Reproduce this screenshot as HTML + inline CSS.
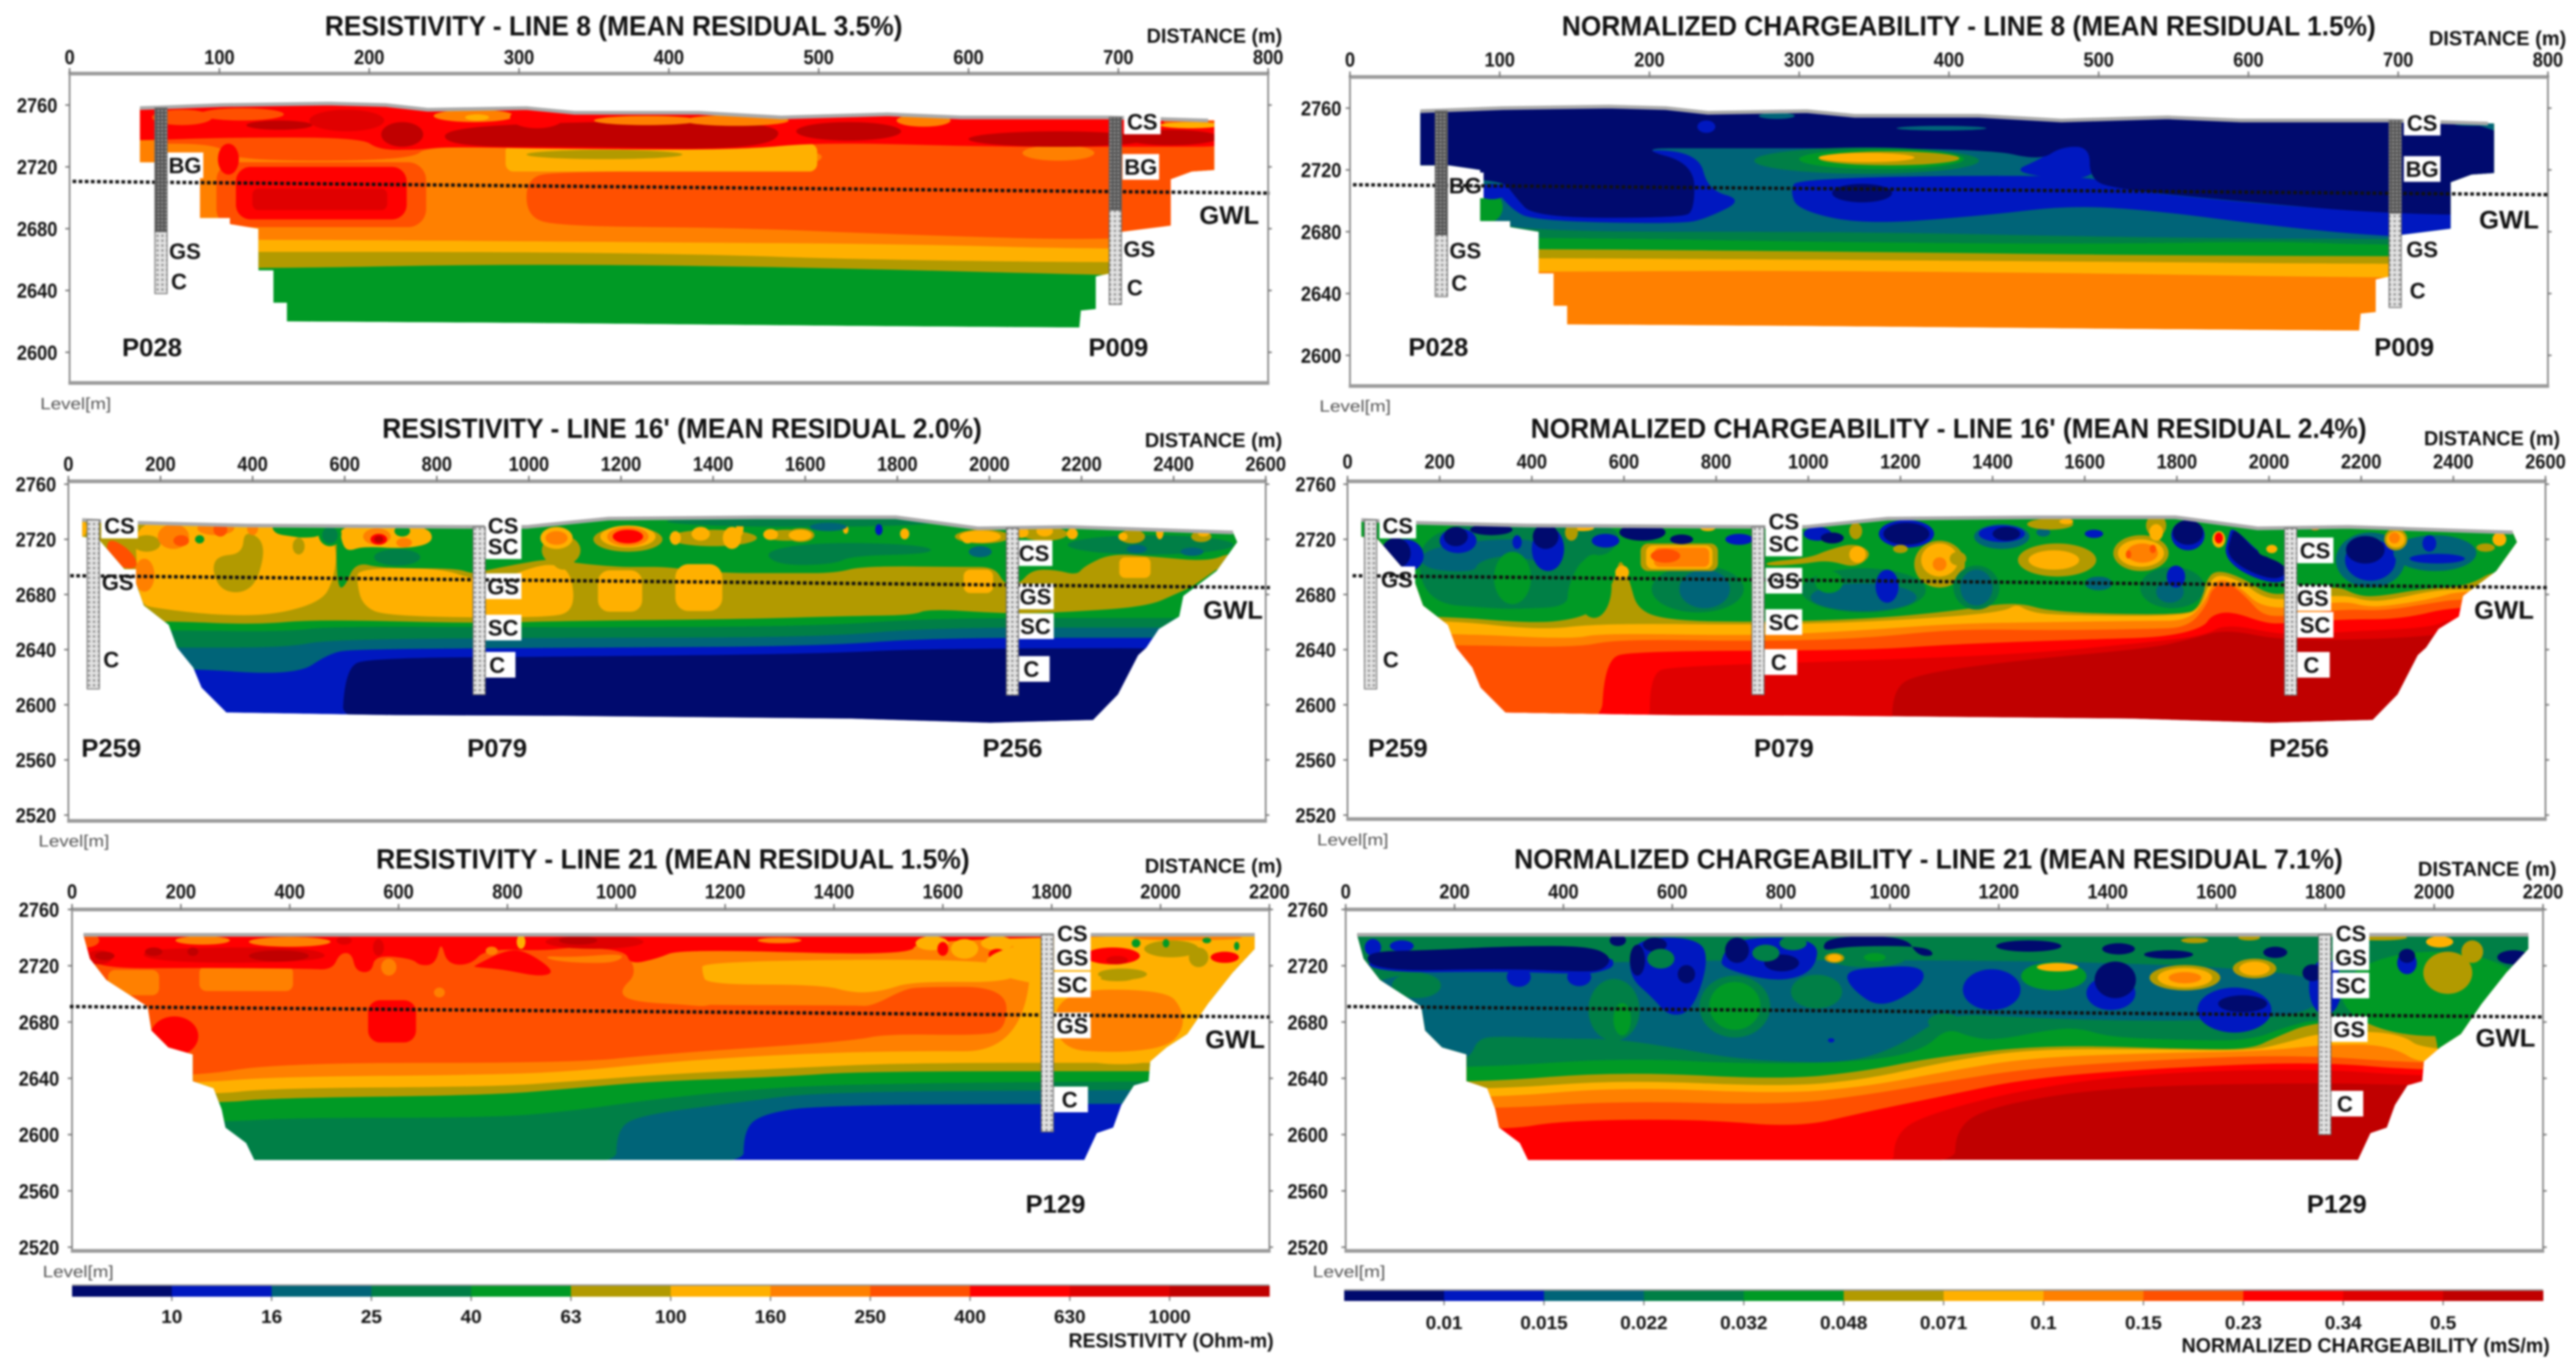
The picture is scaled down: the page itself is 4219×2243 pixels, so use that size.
<!DOCTYPE html>
<html lang="en">
<head>
<meta charset="utf-8">
<title>Resistivity and normalized chargeability sections</title>
<style>
html,body{margin:0;padding:0;background:#fff;}
#chart-root{display:block;width:4219px;height:2243px;filter:blur(1.6px);}
text{font-family:"Liberation Sans",sans-serif;fill:#111;}
.t{font-size:45px;font-weight:700;}
.dist{font-size:33px;font-weight:700;}
.lev{font-size:27px;fill:#555;}
</style>
</head>
<body>
<svg id="chart-root" xmlns="http://www.w3.org/2000/svg" width="4219" height="2243" viewBox="0 0 4219 2243">
<defs>
<pattern id="hole-dark" width="6" height="6" patternUnits="userSpaceOnUse"><rect width="6" height="6" fill="#555"/><rect width="3" height="3" fill="#999"/></pattern>
<pattern id="hole-light" width="8" height="8" patternUnits="userSpaceOnUse"><rect width="8" height="8" fill="#e4e4e4"/><rect width="4" height="4" fill="#999"/></pattern>
</defs>
<rect width="4219" height="2243" fill="#fff"/>

<text class="t" x="532" y="58" textLength="946" lengthAdjust="spacingAndGlyphs">RESISTIVITY - LINE 8 (MEAN RESIDUAL 3.5%)</text>
<text class="t" x="2558" y="58" textLength="1333" lengthAdjust="spacingAndGlyphs">NORMALIZED CHARGEABILITY - LINE 8 (MEAN RESIDUAL 1.5%)</text>
<text class="t" x="626" y="717" textLength="982" lengthAdjust="spacingAndGlyphs">RESISTIVITY - LINE 16' (MEAN RESIDUAL 2.0%)</text>
<text class="t" x="2507" y="717" textLength="1369" lengthAdjust="spacingAndGlyphs">NORMALIZED CHARGEABILITY - LINE 16' (MEAN RESIDUAL 2.4%)</text>
<text class="t" x="616" y="1422" textLength="972" lengthAdjust="spacingAndGlyphs">RESISTIVITY - LINE 21 (MEAN RESIDUAL 1.5%)</text>
<text class="t" x="2480" y="1422" textLength="1357" lengthAdjust="spacingAndGlyphs">NORMALIZED CHARGEABILITY - LINE 21 (MEAN RESIDUAL 7.1%)</text>

<text class="dist" x="1878" y="70" textLength="222" lengthAdjust="spacingAndGlyphs">DISTANCE (m)</text>
<text class="dist" x="3978" y="74" textLength="225" lengthAdjust="spacingAndGlyphs">DISTANCE (m)</text>
<text class="dist" x="1875" y="732" textLength="225" lengthAdjust="spacingAndGlyphs">DISTANCE (m)</text>
<text class="dist" x="3970" y="729" textLength="223" lengthAdjust="spacingAndGlyphs">DISTANCE (m)</text>
<text class="dist" x="1875" y="1429" textLength="225" lengthAdjust="spacingAndGlyphs">DISTANCE (m)</text>
<text class="dist" x="3960" y="1434" textLength="227" lengthAdjust="spacingAndGlyphs">DISTANCE (m)</text>

<text class="lev" x="66" y="670" textLength="116" lengthAdjust="spacingAndGlyphs">Level[m]</text>
<text class="lev" x="2161" y="674" textLength="117" lengthAdjust="spacingAndGlyphs">Level[m]</text>
<text class="lev" x="63" y="1386" textLength="116" lengthAdjust="spacingAndGlyphs">Level[m]</text>
<text class="lev" x="2157" y="1384" textLength="117" lengthAdjust="spacingAndGlyphs">Level[m]</text>
<text class="lev" x="70" y="2091" textLength="116" lengthAdjust="spacingAndGlyphs">Level[m]</text>
<text class="lev" x="2150" y="2091" textLength="119" lengthAdjust="spacingAndGlyphs">Level[m]</text>

<text class="dist" x="1750" y="2206" textLength="336" lengthAdjust="spacingAndGlyphs">RESISTIVITY (Ohm-m)</text>
<text class="dist" x="3573" y="2214" textLength="603" lengthAdjust="spacingAndGlyphs">NORMALIZED CHARGEABILITY (mS/m)</text>
</svg>

<script>
/* ---------- shared scales ---------- */
const colorLevels = ['#000a6e','#0018c0','#006478','#007f46','#009a25','#b29a00','#ffb000','#ff8000','#ff5000','#ff0000','#e00000','#c00000'];
const resistivityTicks = ['10','16','25','40','63','100','160','250','400','630','1000'];
const chargeabilityTicks = ['0.01','0.015','0.022','0.032','0.048','0.071','0.1','0.15','0.23','0.34','0.5'];
const distanceTicks8 = [0,100,200,300,400,500,600,700,800];
const distanceTicks16 = [0,200,400,600,800,1000,1200,1400,1600,1800,2000,2200,2400,2600];
const distanceTicks21 = [0,200,400,600,800,1000,1200,1400,1600,1800,2000,2200];
const levelTicks8 = [2760,2720,2680,2640,2600];
const levelTicks16 = [2760,2720,2680,2640,2600,2560,2520];
const levelTicks21 = [2760,2720,2680,2640,2600,2560,2520];

/* ---------- section outlines as [distance, level] ---------- */
const line8Surface = [[47,2758],[102,2760],[173,2761],[211,2760],[239,2757],[305,2758],[337,2755],[420,2755],[475,2752],[546,2754],[595,2752],[694,2752],[760,2750]];
const line8Flanks = [[764,2750],[764,2718],[749,2717],[735,2712],[735,2682],[702,2678],[694,2651],[685,2649],[685,2628],[675,2627],[674,2616],[532,2617],[305,2619],[145,2620],[145,2632],[136,2632],[136,2653],[126,2653],[126,2680],[107,2683],[107,2687],[87,2687],[87,2720],[66,2723],[47,2723]];
const line16Surface = [[30,2734],[146,2732],[387,2730],[896,2729],[994,2729],[1172,2735],[1494,2736],[1797,2736],[1975,2728],[2172,2729],[2529,2725]];
const line16Flanks = [[2538,2718],[2493,2697],[2421,2679],[2412,2664],[2368,2655],[2341,2641.5],[2323,2636],[2279,2607.5],[2225,2589],[2002,2587],[1699,2590],[1074,2592],[708,2592.5],[343,2594.4],[289,2612.5],[271,2627],[236,2641.5],[218,2658],[164,2672],[146,2689],[66,2720],[30,2722]];
const line21Surface = [[21,2742],[2173,2742]];
const line21Flanks = [[2173,2732],[2132,2715],[2087,2693],[2049,2671.5],[2011,2662],[1981,2652],[1978,2638],[1951,2635],[1928,2621],[1913,2605],[1883,2601],[1860,2582],[335,2582],[320,2594],[282,2605],[275,2618],[260,2633],[222,2638],[222,2657],[177,2662],[146,2674],[139,2691],[63,2710],[33,2725]];

/* ---------- contour layers: [level,pts] region, [level,pts,1] band closed upward, [level,d,L,rd,rL] blob, [level,d,L,rd,rL,1] rounded block ---------- */
const res8Layers = [
[5,[[126,2654],[283,2657],[420,2656],[530,2654],[669,2650.5],[700,2650]],1],
[6,[[126,2665],[283,2665],[420,2663.5],[530,2660],[694,2658]],1],
[7,[[126,2673],[283,2672],[420,2671],[560,2670],[694,2666.5]],1],
[8,[[40,2770],[790,2770],[790,2681],[702,2672],[557,2676],[447,2680.6],[326,2681.5],[305,2688],[305,2713],[326,2717],[502,2718],[502,2735],[240,2735],[228,2724],[107,2724],[100,2735],[40,2735]]],
[8,168,2702,70,21,1],
[9,168,2703,57,17,1],
[10,167,2699,45,7,1],
[7,660,2729,24,5],
[6,395,2726,104,9,1],
[5,357,2728,52,3],
[7,54,2730,9,8],
[9,106,2725,7,10],
[9,[[-20,2770],[800,2770],[800,2733],[700,2733],[612,2733],[502,2736],[447,2731],[337,2731.5],[250,2733],[233,2731],[206,2731],[195,2739],[102,2739],[47,2737],[-20,2737]]],
[11,[[246,2743],[294,2748],[420,2750],[480,2746],[462,2731],[337,2733],[257,2733]]],
[11,520,2743,35,6],[11,660,2738,60,5],[11,222,2741,14,8],[10,185,2750,25,7],[11,735,2739,32,5],[11,140,2747,22,3],
[8,75,2752,20,5],[8,115,2754,28,4],[7,270,2753,27,4],[6,272,2752,8,2],[7,385,2750,35,3],[7,445,2750,35,3.5],[7,570,2750,18,4],[9,312,2752,18,7],[8,748,2749,18,2],[6,748,2747,20,2]
];
const chg8Layers = [
[6,[[126,2654],[288,2655],[507,2653],[694,2650]],1],
[5,[[126,2663],[288,2662],[507,2660.6],[694,2659]],1],
[4,[[126,2669],[343,2667],[507,2665],[694,2664]],1],
[3,[[126,2676.5],[343,2673],[507,2672],[617,2674],[694,2671]],1],
[2,[[90,2687],[126,2680],[343,2680],[507,2676.5],[694,2675]],1],
[4,92,2696,10,10],
[1,[[299,2715],[497,2717],[508,2708],[590,2699.5],[694,2692],[790,2692],[790,2675],[694,2676.5],[617,2683.6],[535,2694],[480,2697],[425,2690.6],[343,2684.5],[299,2694],[294,2706.5]]],
[1,[[189,2734],[233,2731],[239,2707],[263,2700.6],[239,2689],[222,2685],[123,2687],[107,2695],[93,2713]]],
[1,[[461,2727],[475,2736],[497,2736],[499,2712],[440,2718]]],
[0,[[-8,2770],[782,2770],[782,2690.6],[694,2691.5],[590,2700],[508,2708],[494,2715],[494,2735],[475,2735],[461,2726],[425,2734],[233,2734],[192,2734],[230,2724],[230,2694],[222,2689],[123,2689],[110,2703],[101,2715],[-8,2715]]],
[1,95,2706,10,5],
[0,342,2705,20,6],
[3,345,2726,75,8.5],[4,355,2727,55,6.5],[5,360,2727.5,47,4.5],[6,345,2728,32,3],
[1,238,2748,6,4],[2,285,2755,12,2],[2,395,2747,30,1.5],[1,390,2755,20,1],[2,750,2749.5,12,1]
];
const res16Layers = [
[0,[[592,2570],[601,2627],[655,2634],[1101,2635],[1636,2637],[1868,2641],[2700,2641],[2700,2570]]],
[2,[[236,2627],[494,2621],[566,2637.3],[619,2640.4],[1101,2641.4],[1636,2642.5],[1868,2648.6],[2350,2648.6]],1],
[3,[[236,2641.5],[476,2641.5],[566,2647.6],[1101,2648.6],[1636,2649],[1868,2656],[2350,2656]],1],
[4,[[218,2654],[476,2653],[566,2657],[1101,2656],[1636,2657],[1868,2663],[2368,2663]],1],
[5,[[209,2661],[403,2658],[539,2662],[877,2659],[1097,2661],[1454,2662],[1707,2664.5],[1834,2665],[1868,2669.6],[2037,2666],[2156,2667],[2342,2671],[2409,2681],[2443,2686],[2529,2707]],1],
[6,[[145,2735],[330,2735],[445,2734],[560,2732],[584,2712],[575,2690],[550,2675],[446,2665],[319,2665],[190,2670],[156,2673],[148,2700]]],
[5,[[382,2727],[429,2718],[412,2690],[378,2680.7],[331,2683],[312,2697.7],[323,2708],[378,2709.5]]],
[5,170,2717,30,6],
[7,165,2694,22,12],
[8,[[86,2721],[124,2715],[150,2705],[145,2698],[103,2700.6],[82,2709]]],
[7,228,2722,34,9],[8,245,2719,17,4],[4,285,2720,10,3],[7,320,2728,40,5],[8,330,2727,15,5],[7,400,2728,12,5],
[4,[[441,2734],[565,2734],[552,2722],[505,2721],[490,2722],[445,2724]]],
[5,500,2715,13,6],
[4,[[590,2770],[2700,2770],[2700,2711],[2528,2711],[2477,2704],[2367,2707],[2266,2710],[2206,2700.6],[2190,2694],[2143,2698],[2092,2698],[2063,2687],[2033,2687],[2012,2700],[1944,2700],[1724,2700.6],[1665,2695.5],[1564,2695.5],[1411,2695.5],[1300,2700],[1249,2700],[1190,2700],[1097,2703],[1046,2706],[974,2702],[900,2697],[877,2695],[843,2699],[682,2699],[623,2703.6],[600,2685],[585,2685],[581,2715]]],
[6,[[631,2699],[809,2699],[877,2691],[950,2691],[974,2696],[1046,2703],[1092,2697],[1100,2668],[1040,2663],[691,2664],[638,2672],[626,2690]]],
[6,1198,2682.5,48,15,1],[6,1369,2685,51,17,1],[6,1976,2689.5,32,8.5,1],[6,2316,2699.5,34,7.5,1],
[6,[[589,2731],[776,2731],[797,2718],[733,2713],[640,2715],[606,2711],[593,2718]]],
[4,568,2724,25,9],[3,568,2723,17,6],[4,725,2726,17,4],
[3,714,2707,50,6],[4,600,2705,10,6],
[7,670,2722,30,6],[9,674,2720,18,4],[11,674,2720,10,2.5],[7,729,2717.6,17,3.5],
[5,1070,2712,42,11],[5,1075,2706,25,8],[6,1060,2721,35,8],[7,1060,2721,24,5],
[5,1215,2720,75,9],[6,1215,2722,60,8],[7,1215,2722,45,7],[9,1215,2722,33,5],
[5,1400,2721,95,6],[6,1318,2721,12,5],[6,1373,2724,20,5],[6,1441,2721,20,8],[6,1458,2728,8,6],[5,1560,2723,50,4],[6,1525,2723.5,16,4],[5,1590,2723,30,5],[6,1589,2723,25,4],[6,1688,2727,6,3],[6,1816,2724,10,4],
[3,[[1509,2709.5],[1564,2715.4],[1690,2718],[1868,2715.4],[1877,2709.5],[1699,2708],[1665,2702],[1547,2701]]],
[3,1600,2733,300,4],[2,1650,2729,40,3],[1,1760,2727,8,4],[3,2350,2716,180,7],
[2,1980,2711,25,4],[2,2320,2713,22,3],[2,2440,2711,25,3],
[5,1985,2722,60,5],[6,1980,2722,45,4.5],[6,1953,2720,12,3],
[5,2120,2724,50,5],[6,2070,2725,15,4],[6,2120,2726,18,4],[6,2180,2724,12,4],[5,2310,2722,28,5],[6,2290,2722,10,3],[6,2370,2725,8,5],[5,2460,2722,22,4],[6,2465,2724,12,2],[6,30,2728,10,6]
];
const chg16Layers = [
[10,[[1182,2570],[1182,2612],[1245,2623],[1476,2633],[1744,2641],[1833,2648],[1908,2655],[2035,2646],[2348,2649],[2400,2655]],1],
[9,[[656,2570],[656,2623],[710,2628],[1120,2632],[1476,2637],[1744,2645.6],[1858,2650],[1908,2659],[2035,2650],[2162,2653],[2357,2656],[2399,2664]],1],
[8,[[549,2570],[558,2633],[620,2639],[1120,2639.4],[1317,2644],[1613,2647.5],[1773,2649],[1858,2656],[1875,2665],[1917,2668],[1993,2659],[2035,2659],[2162,2662],[2289,2662],[2416,2672.6]],1],
[7,[[237,2643.5],[496,2641.4],[585,2647.6],[883,2646],[1120,2648],[1317,2655],[1528,2654],[1739,2655],[1824,2656],[1866,2672.6],[1875,2684],[1908,2690],[1951,2678],[1985,2665],[2035,2664],[2162,2669.6],[2247,2668],[2357,2674],[2416,2677]],1],
[6,[[224,2652],[486,2647.5],[550,2652],[883,2650],[1120,2654],[1317,2659],[1528,2660],[1739,2661],[1824,2661],[1862,2675.5],[1875,2687],[1900,2692],[1942,2684],[1976,2672.6],[2035,2669.6],[2162,2675.5],[2213,2671],[2264,2672],[2357,2677],[2424,2683.6]],1],
[5,[[207,2662],[418,2654],[545,2659],[883,2658],[1120,2660],[1317,2664],[1427,2668],[1452,2673],[1477,2668],[1528,2665],[1816,2664],[1853,2671],[1870,2689],[1892,2695],[1942,2689],[1985,2678],[2035,2676],[2162,2680],[2213,2675],[2264,2676],[2357,2683],[2433,2684]],1],
[4,[[182,2665],[401,2659],[494,2662],[545,2670],[579,2690],[592,2708],[612,2690],[630,2668],[706,2661],[883,2660],[1120,2662],[1317,2668],[1452,2675],[1528,2667],[1816,2665],[1850,2671],[1866,2693],[1892,2697.7],[1942,2692],[1993,2681],[2035,2680],[2145,2687],[2196,2678.5],[2247,2679],[2331,2684],[2433,2686],[2500,2700]],1],
[6,596,2696,15,5],
[3,[[156,2734],[596,2734],[579,2709],[511,2708],[478,2686],[478,2671],[368,2669.6],[330,2669.6],[156,2674]]],
[2,[[156,2712],[292,2720],[427,2720],[444,2702],[342,2709],[283,2703.6],[275,2696],[165,2698]]],
[4,358,2692,40,19],[4,535,2686,38,23],
[3,760,2684,100,17],[2,775,2684,55,14],
[5,720,2707,84,10,1],[6,720,2707,72,8.5,1],[7,725,2707,60,7,1],[8,690,2708,32,5],
[1,125,2708,40,12],[0,105,2710,32,11],[0,312,2727,46,4],[1,240,2719,40,9],[0,235,2722,26,7],[1,368,2718,10,5],
[1,435,2713,35,16],[0,430,2722,28,9],[0,640,2725,50,6],[0,725,2720,25,3.5],[1,560,2719,30,5],[1,850,2720,30,4],
[6,782,2728,16,2],[6,510,2728,25,2],[5,486,2725,14,6],
[1,1020,2724,30,5],[0,1052,2721,25,4],[5,1103,2726,14,6],[1,1213,2724,60,10],[0,1213,2724,50,8],
[5,[[909,2703.6],[1002,2706.5],[1044,2712.5],[1103,2717.6],[1141,2709.5],[1103,2699],[1044,2705],[985,2702],[909,2700.6]]],
[6,1107,2709,18,6],
[3,1120,2683,135,16],[2,1120,2678,115,10],[4,1045,2689,30,8],[1,1171,2686,25,12],
[5,1285,2702,55,17],[6,1285,2705,40,12],[7,1285,2702,15,5],[5,1200,2713,16,3],[5,1325,2706,18,5],
[3,1365,2685,50,16],[2,1365,2685,35,13],[2,1630,2688,30,5],
[3,1790,2685,70,15],[2,1785,2682,30,8],[1,1798,2693,20,8],
[5,1540,2705,85,12],[6,1533,2705,55,7],
[5,1722,2710,60,13],[6,1722,2710,50,10],[7,1725,2710,34,7],[8,1695,2709,6,3],[8,1748,2713,7,3],
[5,1755,2730,22,8],[6,1755,2725,15,6],
[1,1824,2723,36,11],[0,1824,2725,33,9],
[2,1420,2722,60,9],[1,1420,2724,50,6],[0,1430,2724,30,5],[1,1620,2724,20,3],[2,1510,2725,15,3],
[5,1525,2731,50,4],[6,1560,2733,15,2],
[6,1891,2720,14,6],[9,1891,2721,9,4],
[1,[[1920,2730],[1985,2708],[2042,2700],[2042,2690],[2001,2688],[1935,2697],[1902,2709],[1912,2722]]],
[0,[[1925,2728.7],[1976,2709.5],[2035,2702],[2035,2693],[2001,2691],[1942,2699],[1908,2709.5],[1917,2721]]],
[4,2006,2712,30,5],[6,2006,2713,12,3],
[2,2220,2705,75,20],[1,2220,2705,55,15],[0,2209,2712.4,42,10],
[2,2360,2710,90,13],[1,2365,2706,60,3.5],[1,2348,2717,15,6],
[5,2275,2720,25,8],[6,2275,2720,20,6],[7,2272,2721,12,4],
[6,2500,2720,15,5],[5,2470,2714,20,3],[7,2100,2728,10,1.5]
];
const res21Layers = [
[2,[[1234,2570],[1234,2604],[1271,2615],[1377,2621],[1951,2622],[2300,2622]],1],
[3,[[1000,2570],[1000,2604],[1045,2614],[1226,2623],[1377,2630.5],[1951,2631.7],[2300,2632]],1],
[4,[[275,2608.7],[396,2612],[773,2612],[924,2617],[1075,2625.6],[1302,2634],[1528,2636.5],[1981,2638]],1],
[5,[[267,2622],[365,2626],[773,2628],[924,2633],[1075,2638],[1302,2641],[1453,2645],[1981,2645]],1],
[6,[[252,2628],[365,2633],[773,2634],[924,2638],[1075,2642.5],[1302,2647],[1528,2651],[1981,2651]],1],
[6,[[1750,2650],[2100,2650],[2100,2770],[1750,2770]]],
[7,[[230,2636.5],[365,2641],[773,2642.5],[924,2645],[1075,2651],[1302,2657],[1528,2659.5],[1750,2659],[1770,2770],[-100,2770],[-100,2636]]],
[8,[[-100,2770],[1166,2770],[1166,2723.5],[1045,2710],[1007,2698],[1075,2692],[1437,2692],[1468,2691],[1528,2703],[1558,2705],[1717,2705],[1717,2674],[1664,2670.5],[1498,2671.5],[1437,2667],[1302,2663],[1075,2657],[924,2651],[381,2651],[222,2641],[-100,2641]]],
[7,[[1011,2734],[1200,2734],[1200,2690],[1100,2693],[1025,2695],[1005,2702],[1040,2715]]],
[6,[[1158,2723.5],[1740,2725],[1740,2708],[1543,2709],[1490,2702],[1437,2700.5],[1377,2706.6],[1166,2706.6],[1158,2715]]],
[7,[[1807,2703],[2011,2703],[2041,2688.6],[2041,2674],[2011,2662],[1919,2658],[1807,2661]]],
[7,113,2708,47,9,1],[7,320,2711,86,9,1],[7,582,2719,14,6],[7,675,2701,10,3.5],
[9,188,2670,44,14],[9,588,2680.5,44,15,1],
[9,[[-20,2770],[2200,2770],[2200,2742],[1551,2739],[1543,2727],[1118,2732],[1075,2725],[1025,2721],[1018,2730.6],[925,2733.5],[868,2730.6],[760,2732],[732,2720.5],[689,2721],[678,2738],[668,2721],[639,2720],[625,2725],[557,2727.7],[550,2715],[521,2716],[514,2729],[492,2729],[478,2717],[431,2718],[238,2718.5],[52,2718],[18,2729.5],[-20,2730]]],
[9,[[739,2720],[796,2731],[832,2731],[889,2716],[861,2712],[789,2717.6],[739,2719]]],
[7,[[868,2727],[920,2726],[1018,2729],[1000,2722],[930,2722],[880,2724]]],
[7,771,2730.6,11,3],[6,825,2737,8,5],
[10,[[128,2731],[238,2733],[446,2733],[478,2724],[288,2721.5],[136,2724]]],
[10,50,2726,24,5],
[11,150,2730,16,3],[11,222,2730,10,3],[11,380,2727,55,4],[11,60,2727,18,3],
[8,25,2738,25,5],[7,240,2738,50,3],[7,400,2737,75,3.5],[10,500,2738,14,3],[10,563,2733,10,6],[10,960,2737,90,5],[11,930,2738,35,3],
[7,1300,2738,40,2],[6,1580,2736,30,5],[6,1640,2732,25,7],[6,1700,2736,30,5],[9,1600,2732,10,5],[9,1700,2728,16,4],
[6,1900,2722,220,18],[6,2000,2734,180,8],[7,2050,2740,100,2],
[9,1912,2727,50,6],[10,1920,2724,20,3],[9,2118,2726,26,4],
[5,1930,2714,45,4],[5,2020,2732,50,6],[5,2070,2726,18,7],[5,1920,2711,30,2],
[4,1955,2736,8,3],[4,2010,2736,6,3],[4,2085,2738,8,2],[4,2140,2734,5,3]
];
const chg21Layers = [
[10,[[1120,2570],[1120,2606],[1195,2621],[1406,2634],[1784,2637],[1965,2635]],1],
[9,[[1007,2570],[1007,2599],[1059,2613.5],[1255,2633],[1482,2644],[1784,2647],[1987,2641]],1],
[8,[[290,2602.7],[395,2610],[652,2611],[833,2605],[954,2616],[1105,2628],[1255,2640],[1482,2647],[1784,2652],[1987,2645]],1],
[7,[[275,2618],[501,2624],[803,2621],[954,2628],[1105,2638],[1255,2647],[1482,2653],[1754,2657],[1987,2650]],1],
[6,[[267,2625.6],[501,2634],[803,2629],[954,2634],[1105,2645],[1255,2654.6],[1482,2658],[1693,2659.5],[1799,2664],[1920,2664],[1987,2647]],1],
[5,[[260,2631.6],[501,2639],[803,2634],[954,2639],[1105,2652],[1255,2660.7],[1482,2660.7],[1663,2659.5],[1723,2665],[1799,2673],[1935,2673],[1987,2658]],1],
[4,[[232,2636.5],[501,2645],[803,2639],[954,2645],[1074,2654.6],[1286,2664],[1557,2660.7],[1663,2660.7],[1708,2669],[1784,2681],[1980,2681],[2002,2674],[2010,2650]],1],
[3,[[232,2647],[501,2654.6],[757,2650],[954,2652],[1059,2659.5],[1105,2676],[1150,2669],[1195,2667],[1286,2674],[1346,2676],[1406,2669],[1557,2667],[1663,2667],[1723,2676],[1799,2683.6]],1],
[4,2000,2700,170,30],
[2,[[0,2724],[1799,2724],[1799,2686],[1587,2681],[1406,2681],[1225,2683.6],[1105,2686],[1014,2662],[923,2651],[788,2652],[700,2655],[630,2660],[500,2668],[400,2668],[279,2670],[243,2668],[229,2655],[190,2650],[100,2680]]],
[3,[[-20,2770],[2300,2770],[2300,2730],[1800,2730],[1000,2733],[-20,2731]]],
[3,493,2688.6,47,22],[4,508,2682,16,11.5],[3,715,2691,65,22],[4,715,2691.5,47,17],[3,865,2701.6,47,12],[3,130,2706,45,9],
[3,1100,2680,30,6],[4,1301,2712.6,60,10],
[1,[[30,2726],[486,2728],[495,2720],[472,2716],[436,2714],[293,2716],[57,2715]]],
[1,318,2712,22,7],[1,429,2712,22,6.5],[1,50,2733,15,6],[1,103,2734,22,4],
[0,[[30,2730],[150,2731],[304,2734],[450,2734],[490,2726],[474,2717],[436,2715.6],[293,2718],[55,2716]]],
[1,[[529,2740],[651,2740],[667,2722],[636,2687],[593,2684],[565,2697],[518,2713]]],
[0,536,2724,14,11],[0,568,2735,22,5],[0,626,2714,16,6.5],[3,579,2725,25,7],
[1,[[690,2726],[715,2740],[870,2740],[862,2716],[794,2708],[692,2718]]],
[0,719,2731,22,9],[0,801,2722,32,6],[3,772,2729,25,6],[3,822,2736,25,5],
[0,[[873,2730],[923,2734],[1066,2734],[1084,2727],[1050,2727],[1030,2741],[887,2741]]],
[0,500,2738,15,4],
[3,958,2725,70,6],[4,972,2726,20,3],[5,898,2725.5,18,3.5],[6,898,2725.5,13,2.6],
[1,[[917,2716],[973,2719],[1062,2720],[1062,2706],[983,2689],[928,2704]]],
[1,892,2667,6,1.5],
[1,1187,2703,53,14.5],[1,1406,2700.5,45,12],[1,1633,2688.5,68,16],[1,1800,2705,30,20],[1,1950,2722,18,8],
[0,1648,2693,45,6],[0,1414,2710,38,13],[0,1255,2734,60,4],[0,1420,2732,30,4],[0,1512,2728,45,3],[0,1708,2729.5,22,4],[0,1776,2715,18,6],[0,1950,2727,15,5],[0,2146,2726,30,5],
[6,1308,2719,38,3],[5,1542,2711.5,65,9],[6,1542,2711.5,50,7],[7,1542,2711.5,30,4],
[5,1670,2718,40,7],[6,1670,2718,28,5],[5,2025,2715,45,15],[5,2070,2730,20,8],[6,2010,2737,25,4],[5,1900,2740,50,2],[5,1560,2738,25,2],[5,1660,2740,20,2],
[9,2178,2730,5,4]
];

/* ---------- water table, boreholes [distance, top, split, bottom] ---------- */
const gwl8Res = [[2,2710.6],[801,2703]];
const gwl8Chg = [[2,2710.4],[800,2704]];
const gwl16Res = [[4,2693.6],[2609,2685]];
const gwl16Chg = [[11,2693.6],[2605,2685]];
const gwl21Res = [[-4,2691],[2200,2683.6]];
const gwl21Chg = [[3,2691],[2201,2683.6]];
const holes8 = [[61,2758,2678,2638],[698,2752,2692,2631]];
const holes16Res = [[54,2734,2734,2611.5],[892,2729,2729,2607.4],[2050,2728,2728,2607]];
const holes16Chg = [[50,2734,2734,2611.5],[891,2729,2729,2607.4],[2047,2728,2728,2607]];
const holes21Res = [[1792,2742,2742,2602]];
const holes21Chg = [[1799,2742,2742,2600]];

/* ---------- annotations [text, distance, level, boxed] ---------- */
const notes8Res = [['CS',716,2749.4,1],['BG',715,2720,1],['BG',77,2721,1],['GS',77,2665.6,0],['C',73,2646,0],['GS',714,2667,0],['C',711,2642,0]];
const notes8Chg = [['CS',716,2750.6,1],['BG',716,2720.6,1],['BG',77,2710,1],['GS',77,2668,0],['C',73,2647,0],['GS',716,2668.6,0],['C',713,2642,0]];
const notes16Res = [['CS',111,2730,1],['GS',107,2689,1],['C',93,2633,0],['CS',944,2730,1],['SC',944,2715,1],['GS',944,2686,1],['SC',944,2656,1],['C',931,2629,1],['CS',2097,2710,1],['GS',2100,2678.6,1],['SC',2100,2657,1],['C',2091,2626,1]];
const notes16Chg = [['CS',109,2730,1],['GS',107,2691,1],['C',94,2633,0],['CS',947,2733,1],['SC',947,2717,1],['GS',947,2690,1],['SC',947,2660,1],['C',936,2631,1],['CS',2100,2712,1],['GS',2095,2677.5,1],['SC',2100,2658,1],['C',2092,2629,1]];
const notes21Res = [['CS',1838,2743,1],['GS',1838,2726,1],['SC',1838,2706.6,1],['GS',1838,2677.6,1],['C',1833,2625,1]];
const notes21Chg = [['CS',1847,2743,1],['GS',1847,2726,1],['SC',1847,2706,1],['GS',1844,2675,1],['C',1836,2622,1]];
const wells8Res = [['P028',55,2603.5],['P009',700,2603.5]];
const wells8Chg = [['P028',59,2605.6],['P009',704,2605.6]];
const wells16Res = [['P259',93,2569],['P079',931,2569],['P256',2050,2569]];
const wells16Chg = [['P259',109,2569],['P079',947,2569],['P256',2065,2569]];
const wells21Res = [['P129',1807,2551]];
const wells21Chg = [['P129',1821,2551]];
const gwlLabel8Res = [774,2689];
const gwlLabel8Chg = [774,2688];
const gwlLabel16Res = [2529,2669];
const gwlLabel16Chg = [2510,2669];
const gwlLabel21Res = [2137,2668];
const gwlLabel21Chg = [2131,2669];

/* ---------- panel layout ---------- */
const panels = [
 {id:'resistivity-line-8',left:114,right:2077,top:120.5,bottom:627,y2760:172,per40:101.2,maxD:800,base:4,layers:res8Layers,surface:line8Surface,flanks:line8Flanks,gwl:gwl8Res,holes:holes8,notes:notes8Res,wells:wells8Res,gwlLabel:gwlLabel8Res,dTicks:distanceTicks8,lTicks:levelTicks8,tickY:93,levelX:94},
 {id:'chargeability-line-8',left:2211,right:4173,top:126,bottom:632,y2760:177,per40:101.2,maxD:800,base:7,layers:chg8Layers,surface:line8Surface,flanks:line8Flanks,gwl:gwl8Chg,holes:holes8,notes:notes8Chg,wells:wells8Chg,gwlLabel:gwlLabel8Chg,dTicks:distanceTicks8,lTicks:levelTicks8,tickY:97,levelX:2197},
 {id:'resistivity-line-16',left:112,right:2073,top:788,bottom:1344,y2760:792.7,per40:90.3,maxD:2600,base:1,layers:res16Layers,surface:line16Surface,flanks:line16Flanks,gwl:gwl16Res,holes:holes16Res,notes:notes16Res,wells:wells16Res,gwlLabel:gwlLabel16Res,dTicks:distanceTicks16,lTicks:levelTicks16,tickY:759,levelX:92},
 {id:'chargeability-line-16',left:2207,right:4169,top:788,bottom:1341,y2760:792.7,per40:90.3,maxD:2600,base:11,layers:chg16Layers,surface:line16Surface,flanks:line16Flanks,gwl:gwl16Chg,holes:holes16Chg,notes:notes16Chg,wells:wells16Chg,gwlLabel:gwlLabel16Chg,dTicks:distanceTicks16,lTicks:levelTicks16,tickY:755,levelX:2188},
 {id:'resistivity-line-21',left:118,right:2079,top:1489,bottom:2048,y2760:1489,per40:92.15,maxD:2200,base:1,layers:res21Layers,surface:line21Surface,flanks:line21Flanks,gwl:gwl21Res,holes:holes21Res,notes:notes21Res,wells:wells21Res,gwlLabel:gwlLabel21Res,dTicks:distanceTicks21,lTicks:levelTicks21,tickY:1459,levelX:97},
 {id:'chargeability-line-21',left:2204,right:4165,top:1489,bottom:2048,y2760:1489,per40:92.15,maxD:2200,base:11,layers:chg21Layers,surface:line21Surface,flanks:line21Flanks,gwl:gwl21Chg,holes:holes21Chg,notes:notes21Chg,wells:wells21Chg,gwlLabel:gwlLabel21Chg,dTicks:distanceTicks21,lTicks:levelTicks21,tickY:1459,levelX:2175}
];
const colorbars = [
 {id:'resistivity',left:118,right:2079,top:2105,bottom:2123,labelY:2166,labels:resistivityTicks},
 {id:'chargeability',left:2201.5,right:4165,top:2113,bottom:2130,labelY:2176,labels:chargeabilityTicks}
];

const NS = 'http://www.w3.org/2000/svg';
const root = document.getElementById('chart-root');
function node(parent, tag, attrs, text) {
  const el = document.createElementNS(NS, tag);
  Object.keys(attrs).forEach(k => el.setAttribute(k, attrs[k]));
  if (text !== undefined) el.textContent = text;
  parent.appendChild(el);
  return el;
}
function smooth(pts) {
  const n = pts.length;
  const mid = (a, b) => [(a[0] + b[0]) / 2, (a[1] + b[1]) / 2];
  const s = mid(pts[n - 1], pts[0]);
  let d = 'M' + s[0].toFixed(1) + ' ' + s[1].toFixed(1);
  for (let i = 0; i < n; i++) {
    const m = mid(pts[i], pts[(i + 1) % n]);
    d += 'Q' + pts[i][0].toFixed(1) + ' ' + pts[i][1].toFixed(1) + ' ' + m[0].toFixed(1) + ' ' + m[1].toFixed(1);
  }
  return d + 'Z';
}

function drawPanel(p) {
  const x = d => p.left + d / p.maxD * (p.right - p.left);
  const y = L => p.y2760 + (2760 - L) / 40 * p.per40;
  const pt = a => [x(a[0]), y(a[1])];
  const g = node(root, 'g', {});
  
  

  const outlinePts = p.surface.concat(p.flanks).map(a => pt(a).map(v => v.toFixed(1)).join(',')).join(' ');
  const clip = node(g, 'clipPath', {id: 'clip-' + p.id});
  node(clip, 'polygon', {points: outlinePts});

  const body = node(g, 'g', {'clip-path': 'url(#clip-' + p.id + ')'});
  
  
  const base = node(body, 'polygon', {points: outlinePts, fill: colorLevels[p.base]});
  
  

  p.layers.forEach(layer => {
    let mark;
    if (Array.isArray(layer[1])) {
      let pts = layer[1];
      if (layer[2]) {
        pts = [[-300, 2800], [-300, pts[0][1]]].concat(pts, [[p.maxD + 300, pts[pts.length - 1][1]], [p.maxD + 300, 2800]]);
      }
      mark = node(body, 'path', {d: smooth(pts.map(pt)), fill: colorLevels[layer[0]]});
    } else if (layer[5]) {
      const w = x(layer[1] + layer[3]) - x(layer[1] - layer[3]);
      const h = y(layer[2] - layer[4]) - y(layer[2] + layer[4]);
      mark = node(body, 'rect', {x: x(layer[1] - layer[3]), y: y(layer[2] + layer[4]), width: w, height: h, rx: Math.min(w, h) * 0.28, fill: colorLevels[layer[0]]});
    } else {
      const rx = Math.abs(x(layer[3]) - x(0));
      const ry = Math.abs(y(2760 - layer[4]) - y(2760));
      mark = node(body, 'ellipse', {cx: x(layer[1]), cy: y(layer[2]), rx: rx, ry: ry, fill: colorLevels[layer[0]]});
    }
    
    
  });

  const surf = node(g, 'polyline', {points: p.surface.map(a => pt(a).join(',')).join(' '), fill: 'none', stroke: '#a9a9a9', 'stroke-width': 6});
  
  

  /* frame */
  const lineAttrs = (x1, y1, x2, y2, c, w) => ({x1: x1, y1: y1, x2: x2, y2: y2, stroke: c, 'stroke-width': w});
  const frameL = node(g, 'line', lineAttrs(p.left, p.top, p.left, p.bottom, '#777', 2.5));
  
  
  const frameR = node(g, 'line', lineAttrs(p.right, p.top, p.right, p.bottom, '#777', 2.5));
  
  
  const axisT = node(g, 'line', lineAttrs(p.left - 2, p.top, p.right + 2, p.top, '#9a9a9a', 6));
  
  
  const axisB = node(g, 'line', lineAttrs(p.left - 2, p.bottom, p.right + 2, p.bottom, '#9a9a9a', 6));
  
  

  p.dTicks.forEach(v => {
    const t = node(g, 'line', lineAttrs(x(v), p.top - 9, x(v), p.top, '#777', 2.5));
    
    
    const s = String(v);
    const lab = node(g, 'text', {x: x(v), y: p.tickY + 12, 'text-anchor': 'middle', 'font-size': 33, 'font-weight': 700, textLength: s.length * 16.6, lengthAdjust: 'spacingAndGlyphs'}, s);
    
    
  });
  p.lTicks.forEach(v => {
    const t = node(g, 'line', lineAttrs(p.left - 7, y(v), p.left, y(v), '#777', 2.5));
    
    
    const tr = node(g, 'line', lineAttrs(p.right, y(v), p.right + 6, y(v), '#777', 2.5));
    
    
    const s = String(v);
    const lab = node(g, 'text', {x: p.levelX, y: y(v) + 12, 'text-anchor': 'end', 'font-size': 33, 'font-weight': 700, textLength: s.length * 16.6, lengthAdjust: 'spacingAndGlyphs'}, s);
    
    
  });

  /* annotation boxes first so boreholes sit next to them */
  p.notes.forEach(n => {
    if (n[3]) {
      const box = node(g, 'rect', {x: x(n[1]) - 30, y: y(n[2]) - 21, width: 60, height: 42, fill: '#fff'});
      
      
    }
  });

  const gwl = node(g, 'line', {x1: x(p.gwl[0][0]), y1: y(p.gwl[0][1]), x2: x(p.gwl[1][0]), y2: y(p.gwl[1][1]), stroke: '#111', 'stroke-width': 5.5, 'stroke-dasharray': '6 4'});
  
  

  p.holes.forEach(h => {
    const hx = x(h[0]) - 10;
    if (h[1] > h[2]) {
      const dark = node(g, 'rect', {x: hx, y: y(h[1]), width: 20, height: y(h[2]) - y(h[1]), fill: 'url(#hole-dark)', stroke: '#666', 'stroke-width': 1.5});
      
      
    }
    const light = node(g, 'rect', {x: hx, y: y(h[2]), width: 20, height: y(h[3]) - y(h[2]), fill: 'url(#hole-light)', stroke: '#666', 'stroke-width': 1.5});
    
    
  });

  p.notes.forEach(n => {
    const t = node(g, 'text', {x: x(n[1]), y: y(n[2]) + 13, 'text-anchor': 'middle', 'font-size': 36, 'font-weight': 700}, n[0]);
    
    
  });
  p.wells.forEach(w => {
    const t = node(g, 'text', {x: x(w[1]), y: y(w[2]) + 15, 'text-anchor': 'middle', 'font-size': 42, 'font-weight': 700}, w[0]);
    
    
  });
  const gwlText = node(g, 'text', {x: x(p.gwlLabel[0]), y: y(p.gwlLabel[1]) + 15, 'text-anchor': 'middle', 'font-size': 42, 'font-weight': 700}, 'GWL');
  
  
}

function drawColorbar(c) {
  const g = node(root, 'g', {});
  
  
  const step = (c.right - c.left) / colorLevels.length;
  colorLevels.forEach((col, i) => {
    const seg = node(g, 'rect', {x: c.left + i * step, y: c.top, width: step + 0.5, height: c.bottom - c.top, fill: col});
    
    
  });
  const edge = node(g, 'line', {x1: c.left, y1: c.top - 1, x2: c.right, y2: c.top - 1, stroke: '#999', 'stroke-width': 2.5});
  
  
  c.labels.forEach((s, i) => {
    const t = node(g, 'line', {x1: c.left + (i + 1) * step, y1: c.bottom, x2: c.left + (i + 1) * step, y2: c.bottom + 7, stroke: '#777', 'stroke-width': 2});
    
    
    const lab = node(g, 'text', {x: c.left + (i + 1) * step, y: c.labelY, 'text-anchor': 'middle', 'font-size': 31, 'font-weight': 700}, s);
    
    
  });
}

panels.forEach(drawPanel);
colorbars.forEach(drawColorbar);
</script>
</body>
</html>
